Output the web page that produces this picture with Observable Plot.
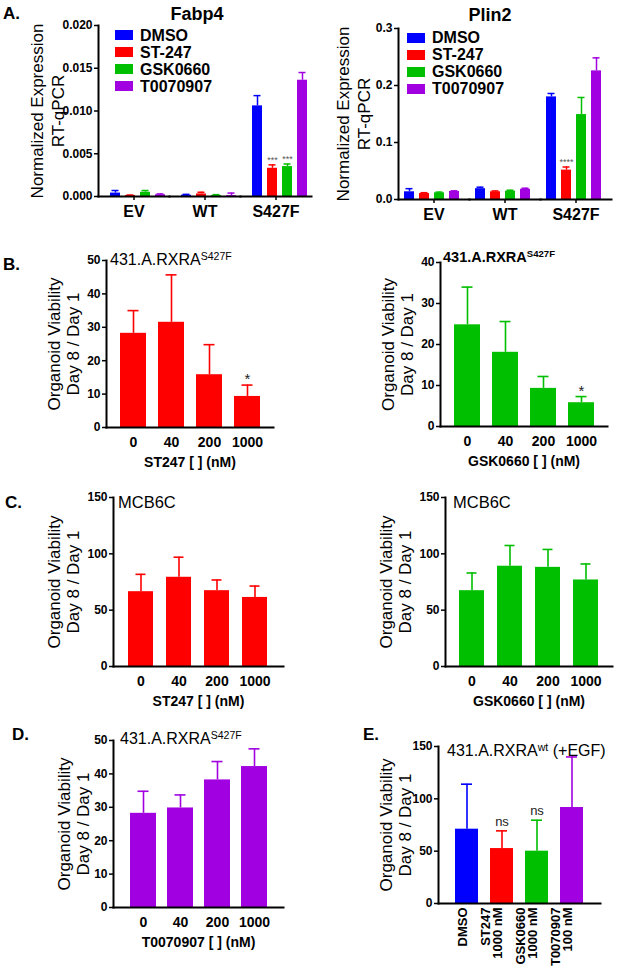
<!DOCTYPE html>
<html>
<head>
<meta charset="utf-8">
<script src="https://cdn.jsdelivr.net/npm/d3@7"></script>
<script src="https://cdn.jsdelivr.net/npm/@observablehq/plot@0.6"></script>
<style>
  body { margin: 0; background: #fff; }
  #fig { position: relative; width: 617px; height: 970px; overflow: hidden; background: #fff;
         font-family: "Liberation Sans", Arial, sans-serif; color: #000; }
  .ann { position: absolute; line-height: 1; white-space: nowrap; color: #000; }
  .ann sup { font-size: 0.66em; vertical-align: 0.5em; line-height: 0; }
  .lg-swatch { line-height: 17px; padding-bottom: 0 !important; }
  .lg-swatch > svg { margin-right: 7px !important; }
</style>
</head>
<body>
<div id="fig"></div>
<script>
const FONT = '"Liberation Sans", Arial, sans-serif';

// ---------- Panel A data ----------
const treatments = ["DMSO", "ST-247", "GSK0660", "T0070907"];
const treatmentColors = ["#0000ff", "#ff0000", "#00bf00", "#a100e0"];
const genotypes = ["EV", "WT", "S427F"];

// rows: genotype, cols: treatment
const fabp4Mean = [
  [0.0004, 0.00012, 0.0005, 0.0002],
  [0.00015, 0.0003, 0.00012, 0.0001],
  [0.0106, 0.0033, 0.0035, 0.0136]
];
const fabp4Err = [
  [0.0003, 0.00005, 0.0002, 0.0001],
  [0.0001, 0.0002, 0.0001, 0.0003],
  [0.0012, 0.0004, 0.0003, 0.0009]
];
const fabp4Sig = [["", "", "", ""], ["", "", "", ""], ["", "***", "***", ""]];
const fabp4Ticks = [0, 0.005, 0.01, 0.015, 0.02];

const plin2Mean = [
  [0.0135, 0.0105, 0.0117, 0.014],
  [0.019, 0.0135, 0.0146, 0.018],
  [0.18, 0.0515, 0.149, 0.2257]
];
const plin2Err = [
  [0.0055, 0.0015, 0.0013, 0.0012],
  [0.0026, 0.0015, 0.0017, 0.0018],
  [0.006, 0.0055, 0.03, 0.0228]
];
const plin2Sig = [["", "", "", ""], ["", "", "", ""], ["", "****", "", ""]];
const plin2Ticks = [0, 0.1, 0.2, 0.3];

// ---------- Panels B-D data ----------
const doses = ["0", "40", "200", "1000"];
const st247S427FMean = [28.2, 31.5, 15.8, 9.3];
const st247S427FErr = [6.8, 14.2, 9.0, 3.4];
const st247S427FSig = ["", "", "", "*"];
const gskS427FMean = [24.8, 18.1, 9.3, 5.8];
const gskS427FErr = [9.2, 7.5, 2.9, 1.5];
const gskS427FSig = ["", "", "", "*"];
const st247MCB6CMean = [66.4, 79.2, 67.3, 61.3];
const st247MCB6CErr = [15.4, 17.8, 9.5, 10.1];
const gskMCB6CMean = [67.3, 89.0, 88.0, 76.8];
const gskMCB6CErr = [15.7, 18.4, 15.9, 14.2];
const t007S427FMean = [28.2, 29.8, 38.2, 42.2];
const t007S427FErr = [6.6, 3.9, 5.5, 5.3];
const noSig = ["", "", "", ""];

// ---------- Panel E data ----------
const egfCats = ["DMSO", "ST247", "GSK0660", "T0070907"];
const egfDoses = ["", "1000 nM", "1000 nM", "100 nM"];
const egfMean = [71, 52.5, 50, 91.7];
const egfErr = [43, 16.9, 29.6, 48.3];
const egfSig = ["", "ns", "ns", ""];

const ticks50 = [0, 10, 20, 30, 40, 50];
const ticks40 = [0, 10, 20, 30, 40];
const ticks150 = [0, 50, 100, 150];
const ylabViab = "Organoid Viability\nDay 8 / Day 1";

const fig = document.getElementById("fig");
function place(node, left, top) {
  node.style.position = "absolute";
  node.style.left = left + "px";
  node.style.top = top + "px";
  fig.appendChild(node);
}
function ann(html, left, baseline, size, weight, center) {
  const d = document.createElement("div");
  d.className = "ann";
  d.innerHTML = html;
  d.style.fontSize = size + "px";
  d.style.fontWeight = weight;
  d.style.top = (baseline - 0.85 * size) + "px";
  d.style.left = left + "px";
  if (center) d.style.transform = "translateX(-50%)";
  fig.appendChild(d);
}

function groupedPanel(o) {
  const rows = genotypes.flatMap((g, i) => treatments.map((t, j) =>
    ({g, t, v: o.mean[i][j], e: o.err[i][j], s: o.sig[i][j]})));
  return Plot.plot({
    width: 317, height: 225,
    marginLeft: 97, marginRight: o.mR, marginTop: o.mT, marginBottom: o.mB,
    style: {fontFamily: FONT, color: "#000", background: "transparent", overflow: "visible"},
    fx: {domain: genotypes, padding: 0, label: null},
    x: {domain: treatments, paddingInner: 0.32, paddingOuter: o.padOut,
        insetLeft: o.inL, insetRight: o.inR, axis: null},
    y: {domain: [0, o.yMax]},
    color: {domain: treatments, range: treatmentColors},
    marks: [
      Plot.ruleX(rows, {fx: "g", x: "t", y1: "v", y2: d => d.v + d.e, stroke: "t", strokeWidth: 1.5}),
      Plot.tickY(rows, {fx: "g", x: "t", y: d => d.v + d.e, stroke: "t", strokeWidth: 1.5, insetLeft: 1.5, insetRight: 1.5}),
      Plot.barY(rows, {fx: "g", x: "t", y: "v", fill: "t"}),
      Plot.text(rows.filter(d => d.s), {fx: "g", x: "t", y: d => d.v + d.e, text: "s", dy: -5, fontSize: 9, fill: "#555"}),
      Plot.frame({anchor: "bottom", strokeWidth: 2}),
      Plot.frame({anchor: "left", facetAnchor: "left", strokeWidth: 2}),
      Plot.axisY({ticks: o.yTicks, tickFormat: o.fmt, tickSize: 4, tickPadding: 2, fontSize: 12,
                  fontWeight: "bold", label: null, strokeWidth: 1.5}),
      Plot.axisFx({anchor: "bottom", tickSize: 4, tickPadding: 5, fontSize: 16, fontWeight: "bold",
                   label: null, strokeWidth: 1.5}),
      Plot.text(["Normalized Expression\nRT-qPCR"], {frameAnchor: "left", facetAnchor: "left",
                 rotate: -90, textAnchor: "middle", dx: o.ylDx, fontSize: 17, lineHeight: 1.24})
    ]
  });
}

function viabPanel(o) {
  const rows = o.cats.map((c, i) => ({c, v: o.mean[i], e: o.err[i], s: o.sig[i]}));
  const multi = Array.isArray(o.fill);
  const fill = multi ? "c" : o.fill;
  const xAxis = o.rotate
    ? Plot.text(rows, {x: "c", text: o.tickFormat, frameAnchor: "bottom", rotate: -90,
                       textAnchor: "end", dy: 4, fontSize: 13, fontWeight: "bold", lineHeight: 0.92})
    : Plot.axisX({tickSize: 0, tickPadding: 10, fontSize: 14, fontWeight: "bold", label: null});
  const marks = [
    Plot.ruleX(rows, {x: "c", y1: "v", y2: d => d.v + d.e, stroke: fill, strokeWidth: 1.6}),
    Plot.tickY(rows, {x: "c", y: d => d.v + d.e, stroke: fill, strokeWidth: 1.6,
                      insetLeft: o.cap, insetRight: o.cap}),
    Plot.barY(rows, {x: "c", y: "v", fill}),
    Plot.text(rows.filter(d => d.s), {x: "c", y: d => d.v + d.e, text: "s", dy: o.sigDy,
                                      fontSize: o.sigSize, fill: "#222"}),
    Plot.frame({anchor: "bottom", strokeWidth: 2}),
    Plot.frame({anchor: "left", strokeWidth: 2}),
    Plot.axisY({ticks: o.yTicks, tickSize: 4, tickPadding: 2, fontSize: 12, fontWeight: "bold",
                label: null, strokeWidth: 1.5}),
    xAxis,
    Plot.text([ylabViab], {frameAnchor: "left", rotate: -90, textAnchor: "middle", dx: o.ylDx,
                           fontSize: 17, lineHeight: 1.12})
  ];
  if (o.xTitle) marks.push(Plot.text([o.xTitle], {frameAnchor: "bottom", dy: 35, fontSize: 14,
                                                  fontWeight: "bold", lineAnchor: "middle"}));
  return Plot.plot({
    width: o.W, height: o.H,
    marginLeft: o.mL, marginRight: o.mR, marginTop: o.mT, marginBottom: o.mB,
    style: {fontFamily: FONT, color: "#000", background: "transparent", overflow: "visible"},
    x: {domain: o.cats, paddingInner: o.pi, paddingOuter: o.po, axis: o.rotate ? null : undefined},
    y: {domain: [0, o.yMax]},
    color: multi ? {domain: o.cats, range: o.fill} : undefined,
    marks
  });
}

// ---------- Panel A ----------
place(groupedPanel({mean: fabp4Mean, err: fabp4Err, sig: fabp4Sig, yMax: 0.02, yTicks: fabp4Ticks,
  fmt: d3.format(".3f"), mT: 25, mB: 29, mR: 5, padOut: 0.24, inL: 8, inR: 0, ylDx: -52}), 0, 0);
place(groupedPanel({mean: plin2Mean, err: plin2Err, sig: plin2Sig, yMax: 0.3, yTicks: plin2Ticks,
  fmt: d3.format(".1f"), mT: 28, mB: 26, mR: 6, padOut: 0.38, inL: 0, inR: 3, ylDx: -46}), 300, 0);

// ---------- Panel B ----------
place(viabPanel({cats: doses, mean: st247S427FMean, err: st247S427FErr, sig: st247S427FSig,
  fill: "#ff0000", yMax: 50, yTicks: ticks50, W: 280, H: 240, mL: 106, mR: 7, mT: 30, mB: 43,
  pi: 0.32, po: 0.34, cap: 7.5, xTitle: "ST247 [ ] (nM)", ylDx: -43.5, sigDy: -6, sigSize: 15}), 0, 230);
place(viabPanel({cats: doses, mean: gskS427FMean, err: gskS427FErr, sig: gskS427FSig,
  fill: "#00bf00", yMax: 40, yTicks: ticks40, W: 317, H: 240, mL: 140, mR: 10, mT: 32, mB: 44,
  pi: 0.32, po: 0.31, cap: 7.5, xTitle: "GSK0660 [ ] (nM)", ylDx: -43.5, sigDy: -5, sigSize: 15}), 300, 230);

// ---------- Panel C ----------
place(viabPanel({cats: doses, mean: st247MCB6CMean, err: st247MCB6CErr, sig: noSig,
  fill: "#ff0000", yMax: 150, yTicks: ticks150, W: 290, H: 240, mL: 113, mR: 7, mT: 27, mB: 44,
  pi: 0.33, po: 0.36, cap: 7.5, xTitle: "ST247 [ ] (nM)", ylDx: -50, sigDy: -6, sigSize: 15}), 0, 470);
place(viabPanel({cats: doses, mean: gskMCB6CMean, err: gskMCB6CErr, sig: noSig,
  fill: "#00bf00", yMax: 150, yTicks: ticks150, W: 317, H: 240, mL: 145, mR: 5, mT: 27, mB: 44,
  pi: 0.33, po: 0.32, cap: 7.5, xTitle: "GSK0660 [ ] (nM)", ylDx: -50, sigDy: -6, sigSize: 15}), 300, 470);

// ---------- Panel D ----------
place(viabPanel({cats: doses, mean: t007S427FMean, err: t007S427FErr, sig: noSig,
  fill: "#a100e0", yMax: 50, yTicks: ticks50, W: 290, H: 250, mL: 113, mR: 7, mT: 30, mB: 53,
  pi: 0.3, po: 0.4, cap: 7.5, xTitle: "T0070907 [ ] (nM)", ylDx: -40.5, sigDy: -6, sigSize: 15}), 0, 710);

// ---------- Panel E ----------
place(viabPanel({cats: egfCats, mean: egfMean, err: egfErr, sig: egfSig,
  fill: treatmentColors, yMax: 150, yTicks: ticks150, W: 317, H: 260, mL: 138, mR: 17, mT: 36, mB: 67,
  pi: 0.34, po: 0.44, cap: 6, rotate: true,
  tickFormat: d => { const i = egfCats.indexOf(d.c); return egfDoses[i] ? d.c + "\n" + egfDoses[i] : d.c; },
  ylDx: -43, sigDy: -9, sigSize: 13}), 300, 710);

// ---------- Legends ----------
function legend(left, top) {
  const lg = Plot.legend({color: {domain: treatments, range: treatmentColors}, legend: "swatches",
    columns: 1, swatchWidth: 18, swatchHeight: 10, className: "lg",
    style: {fontFamily: FONT, fontSize: "16px", fontWeight: "bold", color: "#000", margin: 0}});
  place(lg, left, top);
}
legend(115, 26.5);
legend(407, 29);

// ---------- Titles and panel letters ----------
ann("Fabp4", 197, 20, 18, "bold", true);
ann("Plin2", 490, 21, 18, "bold", true);
ann("431.A.RXRA<sup>S427F</sup>", 110, 266, 16, "normal");
ann("431.A.RXRA<sup>S427F</sup>", 443, 262, 14.5, "bold");
ann("MCB6C", 118, 508, 16.5, "normal");
ann("MCB6C", 453, 508, 16.5, "normal");
ann("431.A.RXRA<sup>S427F</sup>", 120, 745, 16, "normal");
ann("431.A.RXRA<sup>wt</sup> (+EGF)", 447, 757, 16, "normal");

ann("A.", 3, 19, 17, "bold");
ann("B.", 3, 270, 17, "bold");
ann("C.", 5, 508, 17, "bold");
ann("D.", 12, 740, 17, "bold");
ann("E.", 363, 740, 17, "bold");
</script>
</body>
</html>
